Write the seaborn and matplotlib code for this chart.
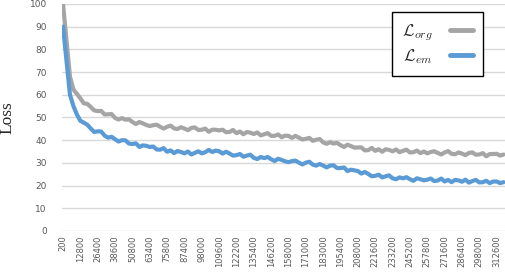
import matplotlib
matplotlib.use('Agg')
import matplotlib.pyplot as plt
import seaborn as sns
import pandas as pd
import numpy as np

# x tick labels (iteration), one label every 5 logged points
tick_labels = ["200", "12800", "26400", "38600", "50800", "63400", "75800",
               "87400", "98000", "109600", "122200", "135400", "146200",
               "158000", "171000", "183000", "195400", "208000", "221600",
               "233200", "245200", "257800", "271600", "286400", "298000",
               "312600"]

loss_org = [100, 84, 68, 62.3, 60.4, 58.4, 56.2, 56.0, 54.6, 53.1,
            52.8, 52.9, 51.3, 51.4, 51.5, 49.8, 49.1, 49.7, 49.0, 49.2,
            48.0, 47.1, 48.0, 47.4, 46.7, 46.2, 46.6, 46.8, 45.9, 45.1,
            45.9, 46.4, 45.2, 44.9, 45.7, 45.1, 44.4, 45.4, 45.6, 44.5,
            44.6, 45.1, 43.7, 44.6, 44.6, 44.3, 44.6, 43.5, 43.6, 44.5,
            43.1, 43.8, 42.6, 43.6, 43.3, 42.7, 43.4, 42.1, 42.6, 43.1,
            41.9, 41.9, 42.5, 41.3, 42.0, 41.9, 41.0, 41.9, 41.1, 40.3,
            40.6, 41.0, 39.7, 40.2, 40.5, 39.0, 38.4, 39.1, 38.5, 38.8,
            37.8, 37.0, 38.0, 37.4, 36.7, 36.8, 36.8, 35.5, 35.6, 36.6,
            35.3, 36.0, 34.9, 36.0, 35.7, 35.1, 35.9, 34.7, 35.3, 35.8,
            34.6, 34.7, 35.4, 34.3, 35.0, 34.2, 34.8, 35.1, 34.4, 33.7,
            34.6, 35.2, 34.0, 33.8, 34.6, 34.1, 33.4, 34.4, 34.6, 33.6,
            33.7, 34.3, 32.9, 33.9, 33.9, 34.0, 33.2, 33.7]

loss_em = [90, 75, 60, 55, 51.3, 48.5, 47.7, 46.8, 45.1, 43.6,
           43.9, 43.8, 42.0, 41.1, 41.5, 40.4, 39.4, 40.0, 39.9, 38.5,
           38.3, 38.6, 37.0, 37.7, 37.5, 37.0, 37.2, 35.9, 35.8, 36.5,
           34.9, 35.5, 34.3, 35.2, 34.8, 34.2, 35.0, 33.7, 34.4, 35.1,
           34.2, 34.7, 35.7, 34.8, 35.4, 35.1, 34.1, 34.9, 34.1, 33.2,
           33.4, 33.9, 32.7, 33.2, 33.6, 32.2, 31.7, 32.6, 32.1, 32.6,
           31.6, 30.8, 31.8, 31.3, 30.7, 30.3, 30.8, 31.0, 30.1, 29.3,
           30.1, 30.5, 29.2, 28.8, 29.5, 28.8, 28.0, 28.8, 28.9, 27.7,
           27.7, 28.0, 26.4, 27.0, 26.7, 26.4, 25.3, 26.0, 25.1, 24.1,
           24.3, 24.8, 23.6, 24.1, 24.5, 23.2, 22.8, 23.6, 23.2, 23.7,
           22.8, 22.1, 23.2, 22.8, 22.3, 22.6, 23.1, 22.0, 22.2, 23.1,
           21.8, 22.5, 21.5, 22.5, 22.3, 21.7, 22.6, 21.3, 22.0, 22.5,
           21.4, 21.5, 22.1, 21.1, 21.8, 21.8, 21.1, 21.5]

sns.set_style("white")
plt.rcParams['mathtext.fontset'] = 'cm'

df = pd.DataFrame({"step": np.arange(len(loss_org)),
                   "org": loss_org, "em": loss_em})

fig = plt.figure(figsize=(5.06, 2.8), dpi=100)
ax = fig.add_axes([0.1225, 0.175, 0.8755, 0.811])

sns.lineplot(data=df, x="step", y="org", color="#A5A5A5", lw=3,
             label=r"$\mathcal{L}_{org}$", ax=ax)
sns.lineplot(data=df, x="step", y="em", color="#5B9BD5", lw=3,
             label=r"$\mathcal{L}_{em}$", ax=ax)

ax.set_ylim(0, 100)
ax.set_xlim(-0.3, 127.4)
ax.set_yticks(range(0, 101, 10))
ax.set_xticks(np.arange(len(tick_labels)) * 5)
ax.set_xticklabels(tick_labels, rotation=90)
ax.tick_params(axis='x', labelsize=6, colors="#595959", length=0, pad=3)
ax.tick_params(axis='y', labelsize=6.5, colors="#595959", length=0, pad=11)
ax.yaxis.grid(True, color="#D9D9D9", lw=1)
ax.xaxis.grid(False)
for s in ax.spines.values():
    s.set_visible(False)

ax.set_xlabel("")
ax.set_ylabel("Loss", family="Liberation Serif", fontsize=12.5, labelpad=10)

leg = ax.legend(loc="upper right", bbox_to_anchor=(0.95, 0.965),
                markerfirst=False, fontsize=12, handlelength=1.4,
                handletextpad=1.0, fancybox=False, framealpha=1,
                borderpad=0.6, labelspacing=0.25, borderaxespad=0)
leg.get_frame().set_edgecolor("black")
leg.get_frame().set_linewidth(1)
for h in leg.get_lines():
    h.set_linewidth(3.5)

fig.savefig("out.png", dpi=100)
